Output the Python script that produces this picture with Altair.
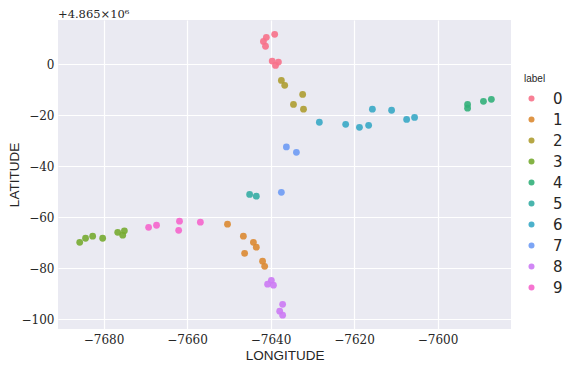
import altair as alt
import pandas as pd

# cluster labels and point coordinates (latitude shown as offset from 4.865e6)
labels = ["0", "1", "2", "3", "4", "5", "6", "7", "8", "9"]
lon = {
    "0": [-7639.0, -7641.0, -7641.7, -7641.2, -7639.6, -7638.1, -7638.8],
    "1": [-7650.3, -7646.5, -7644.1, -7643.4, -7646.2, -7641.9, -7641.4],
    "2": [-7637.4, -7636.6, -7632.3, -7634.5, -7632.1],
    "3": [-7685.7, -7684.3, -7682.6, -7680.2, -7676.6, -7675.0, -7675.4],
    "4": [-7592.8, -7592.8, -7589.0, -7587.1],
    "5": [-7645.0, -7643.4],
    "6": [-7628.3, -7622.0, -7618.7, -7616.5, -7615.6, -7611.0, -7607.4, -7605.5],
    "7": [-7636.2, -7633.8, -7637.4],
    "8": [-7639.8, -7640.7, -7639.3, -7637.1, -7637.8, -7637.1],
    "9": [-7669.2, -7667.3, -7661.8, -7662.0, -7656.8],
}
lat = {
    "0": [11.8, 10.6, 9.0, 7.1, 1.3, 0.9, -0.4],
    "1": [-62.7, -67.4, -69.8, -71.7, -74.1, -77.2, -79.2],
    "2": [-6.3, -8.2, -11.8, -15.7, -17.6],
    "3": [-69.8, -68.2, -67.4, -68.2, -65.9, -65.3, -67.0],
    "4": [-15.7, -17.2, -14.5, -13.7],
    "5": [-51.0, -51.7],
    "6": [-22.7, -23.5, -24.7, -23.9, -17.6, -18.0, -21.6, -20.8],
    "7": [-32.4, -34.5, -50.2],
    "8": [-84.7, -86.2, -86.6, -94.1, -96.8, -98.4],
    "9": [-63.9, -63.1, -61.5, -65.1, -61.9],
}
palette = ["#f77189", "#dc8932", "#ae9d31", "#77ab31", "#33b07a",
           "#36ada4", "#38a9c5", "#6e9bf4", "#cc7af4", "#f565cc"]
x_ticks = [-7680, -7660, -7640, -7620, -7600]
y_ticks = [0, -20, -40, -60, -80, -100]
offset_text = "+4.865×10⁶"

rows = []
for lab in labels:
    for xv, yv in zip(lon[lab], lat[lab]):
        rows.append({"LONGITUDE": xv, "LATITUDE": yv, "label": lab})
df = pd.DataFrame(rows)

serif = "DejaVu Serif"
sans = "Liberation Sans"

points = alt.Chart(df).mark_circle(size=46, opacity=0.9).encode(
    x=alt.X("LONGITUDE:Q",
            scale=alt.Scale(domain=[-7690.9, -7582.4], nice=False, zero=False),
            axis=alt.Axis(values=x_ticks, title="LONGITUDE", format="d")),
    y=alt.Y("LATITUDE:Q",
            scale=alt.Scale(domain=[-103.8, 17.4], nice=False, zero=False),
            axis=alt.Axis(values=y_ticks, title="LATITUDE", format="d")),
    color=alt.Color("label:N",
                    scale=alt.Scale(domain=labels, range=palette),
                    legend=alt.Legend(title="label", orient="none",
                                      legendX=466, legendY=54)),
)

offset = alt.Chart(pd.DataFrame({"t": [offset_text]})).mark_text(
    align="left", baseline="alphabetic", font=serif, fontSize=11.5, color="#262626"
).encode(x=alt.value(0), y=alt.value(-2), text="t:N")

chart = alt.layer(points, offset).properties(
    width=453, height=309,
    autosize=alt.AutoSizeParams(type="none"),
    padding={"left": 50, "top": 12, "right": 54, "bottom": 40},
).configure_view(
    fill="#eaeaf2", stroke=None
).configure_axis(
    grid=True, gridColor="white", gridWidth=1.2, domain=False, ticks=False,
    labelFont=serif, labelFontSize=12, labelColor="#262626", labelPadding=5,
    titleFont=sans, titleFontSize=13.5, titleFontWeight="normal", titleColor="#262626",
).configure_axisX(titlePadding=3).configure_axisY(titlePadding=0, labelPadding=4).configure_legend(
    titleFont=sans, titleFontSize=10, titleFontWeight="normal", titleColor="#262626",
    titlePadding=7,
    labelFont="DejaVu Sans", labelFontSize=15, labelColor="#262626",
    symbolType="circle", symbolSize=36, symbolStrokeWidth=0, rowPadding=5,
    labelOffset=14,
)

chart.save("out.html", embed_options={"renderer": "svg", "actions": False})
